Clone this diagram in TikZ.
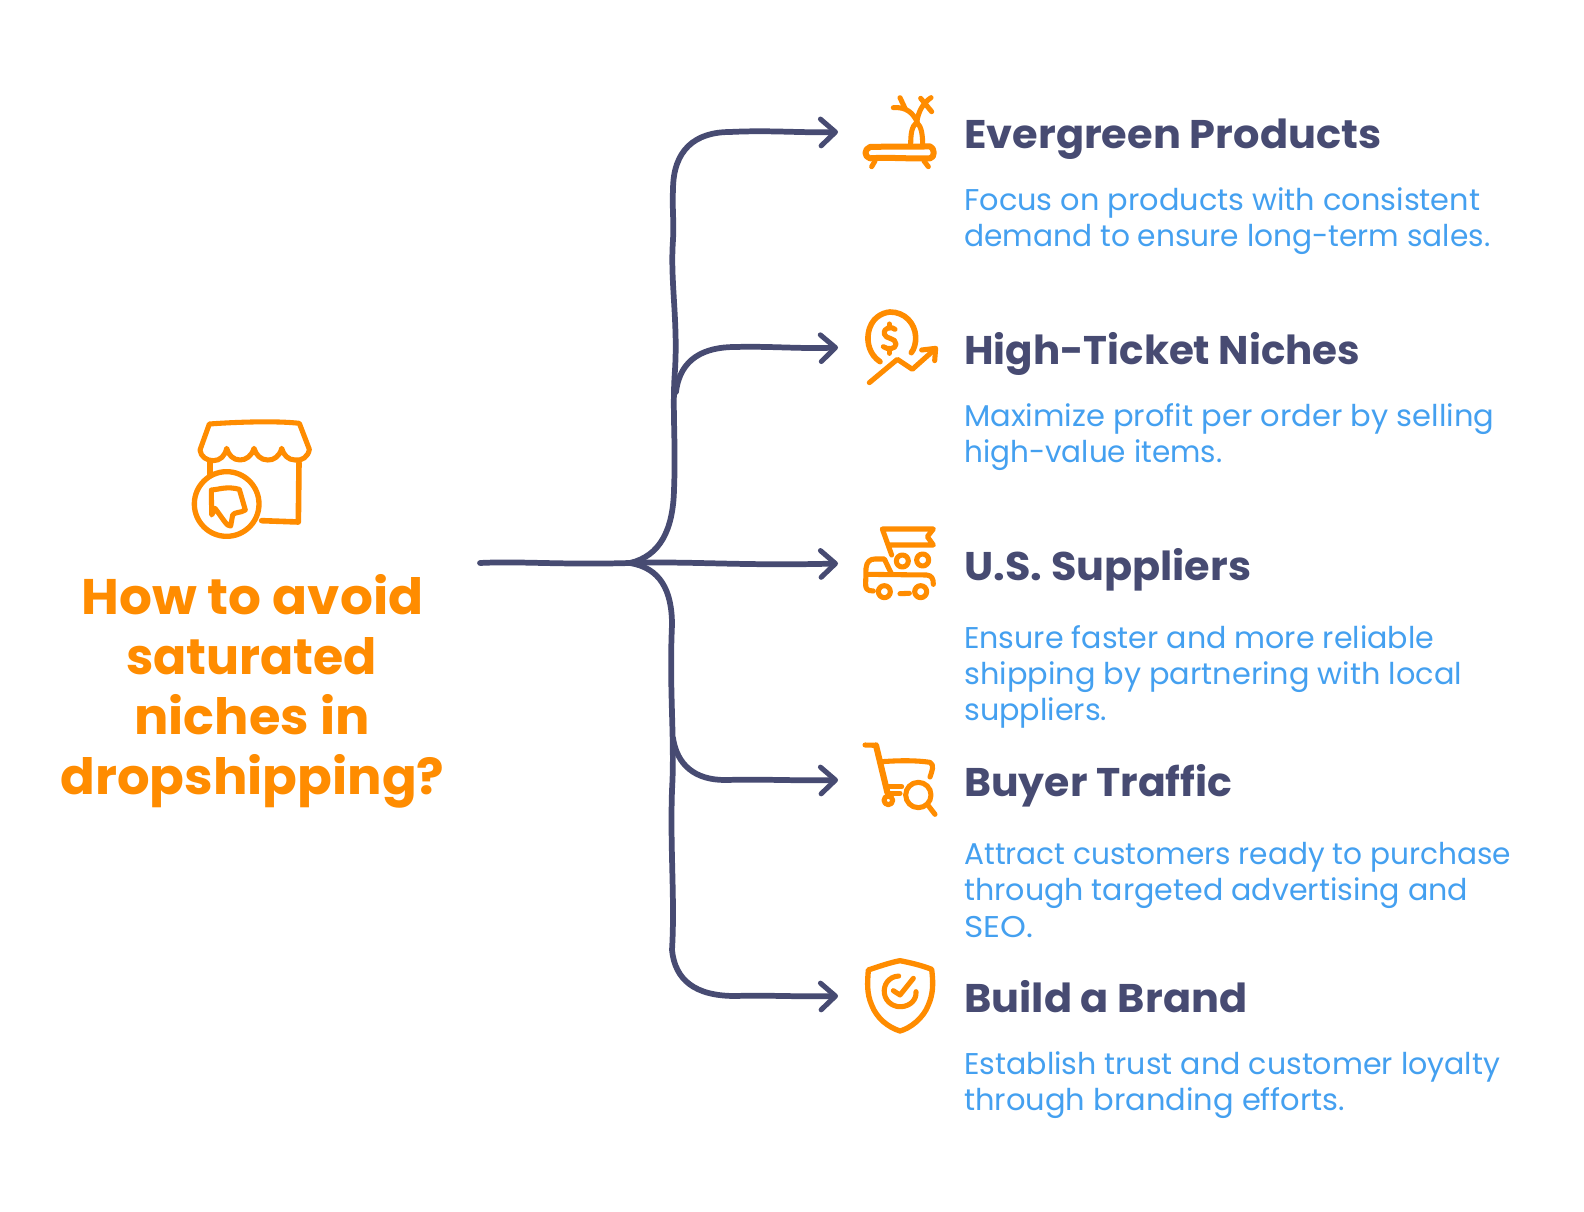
\documentclass[tikz,border=0pt]{standalone}
\usepackage{graphicx}
\usepackage{fontspec}
\usetikzlibrary{arrows.meta,calc}
\setmainfont{Poppins}[BoldFont={Poppins Bold}]
\definecolor{navy}{HTML}{474B72}
\definecolor{skyb}{HTML}{44A0F0}
\definecolor{orng}{HTML}{FF8C00}
\newsavebox\fitbox
\newcommand\fitw[2]{\sbox\fitbox{#2}\pgfmathsetmacro\fitr{#1*0.75/\wd\fitbox}\scalebox{\fitr}[1]{\usebox\fitbox}}
\tikzset{
  titletext/.style={anchor=base,inner sep=0pt,text=orng,font=\fontsize{37.5}{45}\selectfont\bfseries},
  headtext/.style={anchor=base west,inner sep=0pt,text=navy,font=\fontsize{30}{36}\selectfont\bfseries},
  bodytext/.style={anchor=base west,inner sep=0pt,text=skyb,font=\fontsize{22.5}{27}\selectfont},
  conn/.style={draw=navy,line width=4.3pt,line cap=round,line join=round},
  arrowed/.style={conn,-{Straight Barb[length=11pt,width=20pt,line width=3.8pt,round]}},
  icon/.style={draw=orng,line width=3.8pt,line cap=round,line join=round},
  iconbox/.style={shift={#1},x=0.25pt,y=-0.25pt},
}
\begin{document}
\begin{tikzpicture}[x=0.75pt,y=-0.75pt]
\useasboundingbox[fill=white] (0,0) rectangle (1584,1212);
% title
\node[titletext] (t1) at (252.5,614) {\fitw{342}{How to avoid}};
\node[titletext] (t2) at (251.5,674) {\fitw{251}{saturated}};
\node[titletext] (t3) at (252,734) {\fitw{235}{niches in}};
\node[titletext] (t4) at (252.5,794.5) {\fitw{384}{dropshipping?}};
% headings
\node[headtext] (h1) at (964,148.5) {\fitw{417}{Evergreen Products}};
\node[headtext] (h2) at (964,364.7) {\fitw{396}{High-Ticket Niches}};
\node[headtext] (h3) at (964,580.9) {\fitw{287}{U.S. Suppliers}};
\node[headtext] (h4) at (964,796) {\fitw{268}{Buyer Traffic}};
\node[headtext] (h5) at (964,1012.2) {\fitw{283}{Build a Brand}};
% bodies
\node[bodytext] (b1a) at (964,211) {\fitw{516}{Focus on products with consistent}};
\node[bodytext] (b1b) at (964,246.5) {\fitw{526}{demand to ensure long-term sales.}};
\node[bodytext] (b2a) at (964,426.3) {\fitw{530}{Maximize profit per order by selling}};
\node[bodytext] (b2b) at (964,462.7) {\fitw{258}{high-value items.}};
\node[bodytext] (b3a) at (964,648.5) {\fitw{470}{Ensure faster and more reliable}};
\node[bodytext] (b3b) at (964,684.3) {\fitw{498}{shipping by partnering with local}};
\node[bodytext] (b3c) at (964,720.5) {\fitw{143}{suppliers.}};
\node[bodytext] (b4a) at (964,864.7) {\fitw{547}{Attract customers ready to purchase}};
\node[bodytext] (b4b) at (964,900.3) {\fitw{504}{through targeted advertising and}};
\node[bodytext] (b4c) at (964,937) {\fitw{69}{SEO.}};
\node[bodytext] (b5a) at (964,1074.9) {\fitw{536}{Establish trust and customer loyalty}};
\node[bodytext] (b5b) at (964,1110.5) {\fitw{381}{through branding efforts.}};
% connectors
\coordinate (root) at (480,563);
\coordinate (hub) at (630,563);
\coordinate (e1) at (838,132);
\coordinate (e2) at (838,347.5);
\coordinate (e3) at (838,563.5);
\coordinate (e4) at (838,780);
\coordinate (e5) at (838,996);
\coordinate (s2) at (676,392);
\coordinate (s4) at (673,738);
\draw[arrowed] (root) .. controls (520,561) and (560,565) .. (hub) .. controls (690,561) and (740,566) .. (e3);
\draw[arrowed] (hub) .. controls (660,556) and (673,530) .. (674,490)
  .. controls (676,440) and (672,410) .. (675,370)
  .. controls (678,320) and (670,280) .. (673,240)
  .. controls (674,220) and (672,205) .. (673,190)
  .. controls (673,150) and (695,132) .. (730,132)
  .. controls (770,130) and (800,133) .. (e1);
\draw[arrowed] (s2) .. controls (680,358) and (705,347) .. (735,347)
  .. controls (770,346) and (800,349) .. (e2);
\draw[arrowed] (s4) .. controls (677,765) and (695,780) .. (725,780)
  .. controls (770,779) and (800,781) .. (e4);
\draw[arrowed] (hub) .. controls (660,568) and (672,590) .. (672,625)
  .. controls (669,690) and (675,740) .. (672,790)
  .. controls (670,850) and (675,900) .. (672,950)
  .. controls (675,980) and (695,996) .. (735,996)
  .. controls (770,995) and (800,997) .. (e5);
% shop icon
\begin{scope}[iconbox={(170,400)}]
  \draw[icon] (90,150) -- (118,72) .. controls (200,66) and (320,62) .. (388,70) -- (418,148)
     .. controls (415,170) and (395,184) .. (375,180) .. controls (355,180) and (340,165) .. (335,145)
     .. controls (330,168) and (310,182) .. (293,180) .. controls (272,180) and (258,165) .. (252,145)
     .. controls (245,168) and (228,180) .. (210,180) .. controls (190,180) and (175,165) .. (170,145)
     .. controls (165,168) and (150,182) .. (130,182) .. controls (110,182) and (92,170) .. (90,150) -- cycle;
  \draw[icon] (120,185) -- (120,228);
  \draw[icon,line width=4.2pt] (387,188) -- (385,366) -- (275,362);
  \draw[icon,line width=4pt] (170,312) circle[radius=97];
  \draw[icon] (124,270) .. controls (150,268) and (170,258) .. (208,268) -- (226,330) .. controls (210,340) and (195,335) .. (188,345)
     -- (182,378) .. controls (170,378) and (165,365) .. (135,325) -- (125,345) -- cycle;
\end{scope}
% tree icon
\begin{scope}[iconbox={(850,85)}]
  \draw[icon,line width=4.5pt] (60,186) .. controls (120,184) and (190,186) .. (240,184) .. controls (255,190) and (255,218) .. (240,220)
     .. controls (180,222) and (110,216) .. (60,220) .. controls (42,216) and (42,192) .. (60,186) -- cycle;
  \draw[icon] (75,228) -- (65,245) (222,228) -- (235,245);
  \draw[icon] (182,182) .. controls (182,145) and (185,125) .. (200,112) .. controls (215,125) and (218,150) .. (218,182);
  \draw[icon] (202,112) .. controls (190,85) and (170,65) .. (130,68);
  \draw[icon] (150,38) -- (165,70);
  \draw[icon] (200,112) .. controls (205,80) and (218,55) .. (243,38);
  \draw[icon] (212,40) -- (245,80);
\end{scope}
% money icon
\begin{scope}[iconbox={(850,300)}]
  \draw[icon,line width=4.2pt] (90,185) .. controls (60,165) and (50,130) .. (55,100) .. controls (62,55) and (95,38) .. (120,36)
     .. controls (165,36) and (195,70) .. (197,110) .. controls (198,130) and (192,148) .. (184,158);
  \draw[icon] (135,88) .. controls (125,78) and (100,82) .. (103,102) .. controls (105,118) and (138,112) .. (138,132) .. controls (138,148) and (112,150) .. (100,140);
  \draw[icon] (118,72) -- (118,84) (118,148) -- (118,160);
  \draw[icon] (58,248) -- (142,178) -- (187,208) -- (252,150);
  \draw[icon] (215,150) -- (257,145) -- (254,182);
\end{scope}
% truck icon
\begin{scope}[iconbox={(850,515)}]
  \draw[icon] (125,120) -- (97,42) -- (250,42) -- (232,65) -- (250,90) -- (115,90);
  \draw[icon] (157,138) circle[radius=18] (218,135) circle[radius=18];
  \draw[icon] (70,228) .. controls (50,228) and (46,220) .. (47,205) -- (48,160) .. controls (50,140) and (60,132) .. (75,132) -- (103,132) -- (125,178);
  \draw[icon] (50,178) -- (230,180) .. controls (245,182) and (250,190) .. (250,208);
  \draw[icon] (103,230) circle[radius=18] (212,230) circle[radius=18];
  \draw[icon] (150,236) -- (178,235);
\end{scope}
% cart icon
\begin{scope}[iconbox={(850,735)}]
  \draw[icon] (45,30) -- (78,31);
  \draw[icon,line width=4.6pt] (78,31) -- (112,172);
  \draw[icon] (97,80) .. controls (150,76) and (200,76) .. (240,82) .. controls (255,90) and (245,110) .. (240,126);
  \draw[icon] (115,155) -- (155,155) (112,175) -- (150,175);
  \draw[icon] (115,196) circle[radius=13];
  \draw[icon] (205,180) circle[radius=38];
  \draw[icon] (235,212) -- (255,238);
\end{scope}
% shield icon
\begin{scope}[iconbox={(850,950)}]
  \draw[icon,line width=4pt] (55,60) .. controls (90,48) and (120,38) .. (150,32) .. controls (180,38) and (215,46) .. (245,58)
     .. controls (250,100) and (250,130) .. (235,165) .. controls (220,205) and (180,235) .. (150,243)
     .. controls (115,232) and (80,205) .. (65,165) .. controls (50,130) and (52,100) .. (55,60) -- cycle;
  \draw[icon] (146,78) .. controls (115,80) and (100,105) .. (103,130) .. controls (108,160) and (135,172) .. (155,170) .. controls (180,168) and (200,150) .. (198,125);
  \draw[icon] (130,122) -- (150,135) -- (190,85);
\end{scope}
\end{tikzpicture}
\end{document}
